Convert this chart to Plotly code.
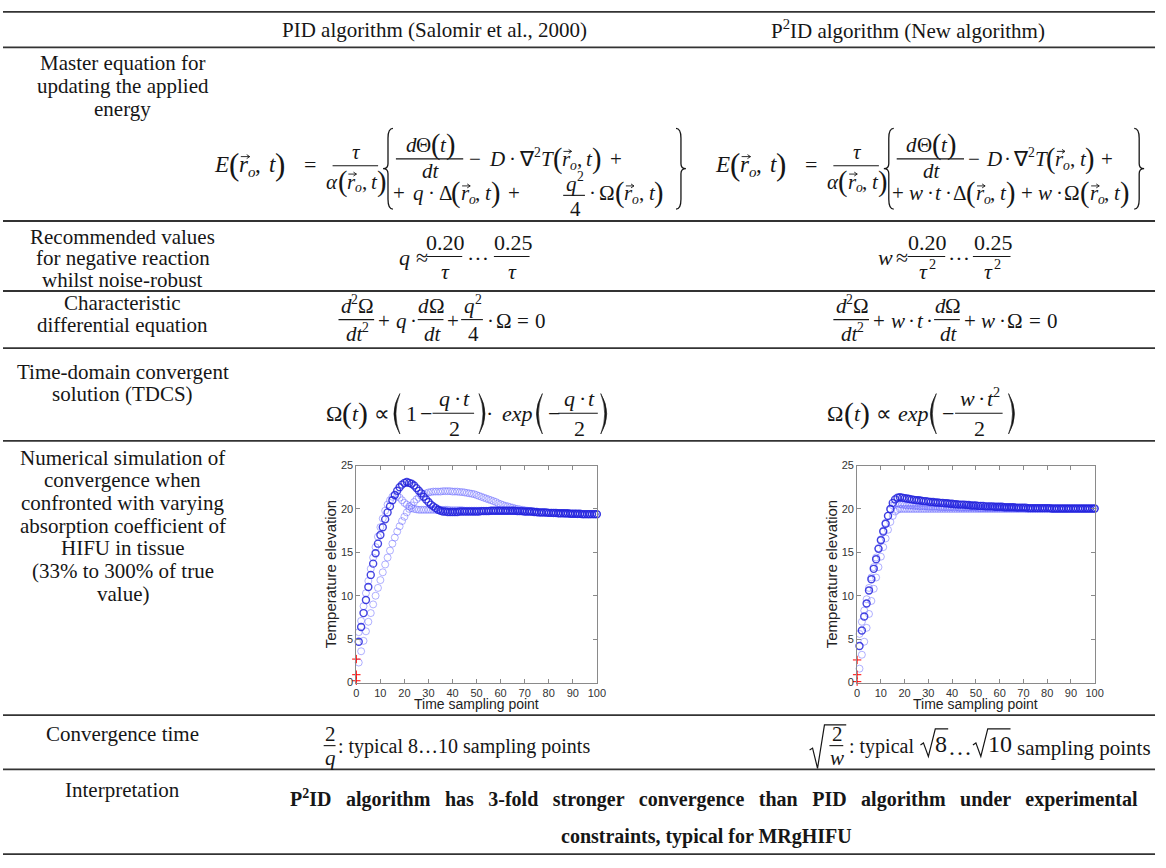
import plotly.graph_objects as go

# ---------------- data ----------------
t_steps = list(range(1, 101))
t_start = [0, 0, 0]

pid_start = [0.2, 0.9, 2.7]
pid_true = [4.7, 6.4, 8.0, 9.5, 11.0, 12.4, 13.7, 14.9, 16.0, 17.0,
            17.9, 18.8, 19.6, 20.3, 21.0, 21.6, 22.1, 22.5, 22.8, 23.0,
            23.1, 23.0, 22.9, 22.7, 22.4, 22.1, 21.8, 21.4, 21.1, 20.8,
            20.5, 20.3, 20.1, 19.9, 19.8, 19.7, 19.7, 19.65, 19.65, 19.65,
            19.65, 19.65, 19.7, 19.7, 19.7, 19.7, 19.7, 19.7, 19.7, 19.7,
            19.7, 19.75, 19.75, 19.75, 19.75, 19.8, 19.8, 19.8, 19.8, 19.8,
            19.8, 19.8, 19.8, 19.8, 19.8, 19.8, 19.75, 19.75, 19.75, 19.7,
            19.7, 19.7, 19.7, 19.65, 19.65, 19.6, 19.6, 19.6, 19.6, 19.55,
            19.55, 19.55, 19.55, 19.5, 19.5, 19.5, 19.5, 19.5, 19.45, 19.45,
            19.45, 19.45, 19.45, 19.4, 19.4, 19.4, 19.4, 19.4, 19.4, 19.4]
pid_fast = [5.8, 7.1, 8.8, 10.3, 11.7, 13.1, 14.4, 15.6, 16.8, 17.9,
            18.9, 19.8, 20.5, 21.0, 21.4, 21.6, 21.5, 21.3, 21.0, 20.7,
            20.5, 20.3, 20.1, 20.0, 19.95, 19.9, 19.9, 19.9, 19.9, 19.9,
            19.9, 19.9, 19.9, 19.9, 19.9, 19.9, 19.9, 19.9, 19.85, 19.85,
            19.85, 19.85, 19.85, 19.85, 19.8, 19.8, 19.8, 19.8, 19.8, 19.8,
            19.8, 19.8, 19.8, 19.8, 19.8, 19.8, 19.8, 19.8, 19.8, 19.8,
            19.8, 19.8, 19.8, 19.8, 19.8, 19.75, 19.75, 19.75, 19.7, 19.7,
            19.7, 19.7, 19.65, 19.65, 19.6, 19.6, 19.6, 19.6, 19.55, 19.55,
            19.55, 19.5, 19.5, 19.5, 19.5, 19.5, 19.45, 19.45, 19.45, 19.45,
            19.45, 19.4, 19.4, 19.4, 19.4, 19.4, 19.4, 19.4, 19.4, 19.4]
pid_slow = [2.3, 3.6, 4.8, 5.9, 7.0, 8.0, 9.0, 10.0, 10.9, 11.8,
            12.7, 13.6, 14.4, 15.2, 16.0, 16.7, 17.4, 18.0, 18.6, 19.1,
            19.6, 20.0, 20.4, 20.8, 21.1, 21.3, 21.5, 21.7, 21.8, 21.9,
            21.95, 22.0, 22.0, 22.0, 22.0, 22.05, 22.05, 22.05, 22.05, 22.0,
            22.0, 22.0, 21.95, 21.95, 21.9, 21.85, 21.8, 21.75, 21.7, 21.6,
            21.5, 21.4, 21.3, 21.2, 21.1, 21.0, 20.9, 20.8, 20.65, 20.55,
            20.45, 20.35, 20.3, 20.2, 20.15, 20.05, 20.0, 19.95, 19.9, 19.85,
            19.8, 19.75, 19.7, 19.7, 19.65, 19.6, 19.6, 19.6, 19.55, 19.55,
            19.55, 19.5, 19.5, 19.5, 19.5, 19.5, 19.45, 19.45, 19.45, 19.45,
            19.45, 19.4, 19.4, 19.4, 19.4, 19.4, 19.4, 19.4, 19.4, 19.4]

p2id_start = [0.1, 0.9, 2.6]
p2id_true = [4.2, 6.0, 7.6, 9.1, 10.6, 11.9, 13.1, 14.2, 15.4, 16.4,
             17.4, 18.3, 19.2, 20.0, 20.7, 21.1, 21.3, 21.35, 21.3, 21.25,
             21.2, 21.15, 21.1, 21.05, 21.0, 21.0, 20.95, 20.9, 20.9, 20.85,
             20.8, 20.8, 20.75, 20.75, 20.7, 20.7, 20.65, 20.65, 20.6, 20.6,
             20.55, 20.55, 20.5, 20.5, 20.5, 20.45, 20.45, 20.4, 20.4, 20.4,
             20.35, 20.35, 20.35, 20.3, 20.3, 20.3, 20.3, 20.25, 20.25, 20.25,
             20.25, 20.2, 20.2, 20.2, 20.2, 20.2, 20.15, 20.15, 20.15, 20.15,
             20.15, 20.1, 20.1, 20.1, 20.1, 20.1, 20.1, 20.1, 20.1, 20.1,
             20.1, 20.05, 20.05, 20.05, 20.05, 20.05, 20.05, 20.05, 20.05, 20.05,
             20.05, 20.05, 20.05, 20.05, 20.05, 20.05, 20.05, 20.05, 20.05, 20.05]
p2id_fast = [5.6, 7.0, 8.3, 9.6, 10.9, 12.1, 13.3, 14.4, 15.5, 16.5,
             17.5, 18.4, 19.2, 19.9, 20.4, 20.6, 20.6, 20.55, 20.5, 20.45,
             20.4, 20.4, 20.4, 20.35, 20.35, 20.3, 20.3, 20.3, 20.3, 20.25,
             20.25, 20.25, 20.25, 20.25, 20.2, 20.2, 20.2, 20.2, 20.2, 20.2,
             20.2, 20.2, 20.15, 20.15, 20.15, 20.15, 20.15, 20.15, 20.15, 20.15,
             20.1, 20.1, 20.1, 20.1, 20.1, 20.1, 20.1, 20.1, 20.1, 20.1,
             20.1, 20.1, 20.1, 20.1, 20.1, 20.1, 20.1, 20.1, 20.1, 20.1,
             20.05, 20.05, 20.05, 20.05, 20.05, 20.05, 20.05, 20.05, 20.05, 20.05,
             20.05, 20.05, 20.05, 20.05, 20.05, 20.05, 20.05, 20.05, 20.05, 20.05,
             20.05, 20.05, 20.05, 20.05, 20.05, 20.05, 20.05, 20.05, 20.05, 20.05]
p2id_slow = [1.6, 3.2, 4.7, 6.3, 7.9, 9.4, 10.8, 12.1, 13.3, 14.5,
             15.6, 16.6, 17.6, 18.5, 19.2, 19.7, 19.9, 20.0, 20.0, 20.0,
             20.0, 20.0, 20.0, 20.0, 20.0, 20.0, 20.0, 20.0, 20.0, 20.0,
             20.0, 20.0, 20.0, 20.0, 20.0, 20.0, 20.0, 20.0, 20.0, 20.0,
             20.0, 20.0, 20.0, 20.0, 20.0, 20.0, 20.0, 20.0, 20.0, 20.0,
             20.0, 20.0, 20.0, 20.0, 20.0, 20.0, 20.0, 20.0, 20.0, 20.0,
             20.0, 20.0, 20.0, 20.0, 20.0, 20.0, 20.0, 20.0, 20.0, 20.0,
             20.0, 20.0, 20.0, 20.0, 20.0, 20.0, 20.0, 20.0, 20.0, 20.0,
             20.0, 20.0, 20.0, 20.0, 20.0, 20.0, 20.0, 20.0, 20.0, 20.0,
             20.0, 20.0, 20.0, 20.0, 20.0, 20.0, 20.0, 20.0, 20.0, 20.0]

x_ticks = [0, 10, 20, 30, 40, 50, 60, 70, 80, 90, 100]
y_ticks = [0, 5, 10, 15, 20, 25]
x_title = "Time sampling point"
y_title = "Temperature elevation"

col_headers = ["PID algorithm (Salomir et al., 2000)", "P<sup>2</sup>ID algorithm (New algorithm)"]
row_labels = [
    ["Master equation for", "updating the applied", "energy"],
    ["Recommended values", "for negative reaction", "whilst noise-robust"],
    ["Characteristic", "differential equation"],
    ["Time-domain convergent", "solution (TDCS)"],
    ["Numerical simulation of", "convergence when", "confronted with varying",
     "absorption coefficient of", "HIFU in tissue", "(33% to 300% of true", "value)"],
    ["Convergence time"],
    ["Interpretation"],
]
interpretation = ["P<sup>2</sup>ID algorithm has 3-fold stronger convergence than PID algorithm under experimental",
                  "constraints, typical for MRgHIFU"]

# ---------------- helpers ----------------
W, H = 1166, 868
SERIF = "Liberation Serif"
INK = "#161616"
ann, shapes = [], []


def X(x):
    return x / W


def Y(y):
    return 1 - y / H


def txt(x, y, s, size=20, anchor="center", color=INK, family=SERIF):
    ann.append(dict(x=X(x), y=Y(y), xref="paper", yref="paper", text=s, showarrow=False,
                    xanchor=anchor, yanchor="middle", borderpad=0,
                    font=dict(family=family, size=size, color=color)))


def seg(x0, y0, x1, y1, w=1.1, color=INK):
    shapes.append(dict(type="line", xref="paper", yref="paper", x0=X(x0), y0=Y(y0),
                       x1=X(x1), y1=Y(y1), line=dict(color=color, width=w)))


def pathd(cmds, w=1.2, fill=None):
    d = ""
    for item in cmds:
        cmd, vals = item[0], item[1:]
        pts = [f"{X(vals[i]):.5f},{Y(vals[i + 1]):.5f}" for i in range(0, len(vals), 2)]
        d += cmd + " " + " ".join(pts) + " "
    sh = dict(type="path", xref="paper", yref="paper", path=d.strip() + (" Z" if fill else ""),
              line=dict(color=INK, width=w))
    if fill:
        sh["fillcolor"] = fill
    shapes.append(sh)


# Times / Liberation Serif advance widths (em)
REG = {' ': .25, '(': .333, ')': .333, ',': .25, '.': .25, ':': .278, '+': .564, '=': .564,
       '−': .564, '·': .25, '≈': .549, '∝': .72, 'Ω': .768, 'Θ': .722, 'Δ': .612, '∇': .72,
       '…': 1.0, 'τ': .44, 'α': .53, '2': .5, '0': .5, '1': .5, '4': .5, '5': .5, '8': .5}
ITA = {'E': .611, 'r': .389, 'o': .5, 't': .278, 'd': .5, 'D': .722, 'T': .556, 'q': .5,
       'w': .667, 'e': .444, 'x': .444, 'p': .5, 'τ': .44, 'α': .53}
SCALE = {'sub': .65, 'sup': .65, 'L': 1.35, 'R': 1.35}


def pw(piece, S):
    kind, s = piece
    if kind == 'g':
        return s * S
    fs = S * SCALE.get(kind, 1)
    table = ITA if kind in ('i', 'v', 'sub') else REG
    return sum(table.get(c, .5) for c in s) * fs


def run(x, y, pieces, S=21, anchor="left"):
    total = sum(pw(p, S) for p in pieces)
    cx = x - total / 2 if anchor == "center" else x
    for kind, s in pieces:
        w = pw((kind, s), S)
        if kind == 'g':
            cx += w
            continue
        fs = S * SCALE.get(kind, 1)
        dy = {'sub': .3 * S, 'sup': -.32 * S}.get(kind, 0)
        text = f"<i>{s}</i>" if kind in ('i', 'v', 'sub') else s
        txt(cx, y + dy, text, round(fs, 1), anchor="left")
        if kind == 'v':
            ya = y - .36 * S
            a0, a1 = cx + .12 * S, cx + w + .12 * S
            pathd([("M", a0, ya), ("L", a1, ya), ("M", a1 - 3, ya - 2), ("L", a1, ya),
                   ("L", a1 - 3, ya + 2)], w=0.9)
        cx += w
    return cx


def frac(cx, yb, num, den, half, S=21, up=13, down=14):
    seg(cx - half, yb, cx + half, yb, w=1.1)
    run(cx, yb - up, num, S, anchor="center")
    run(cx, yb + down, den, S, anchor="center")


def brace(x, y0, y1, w=9, left=True):
    ym = (y0 + y1) / 2
    s = 1 if left else -1
    xm = x + s * w / 2
    xe = x + s * w
    pathd([("M", xe, y0), ("Q", xm, y0, xm, y0 + w), ("L", xm, ym - w / 2),
           ("Q", xm, ym, x, ym), ("Q", xm, ym, xm, ym + w / 2), ("L", xm, y1 - w),
           ("Q", xm, y1, xe, y1)], w=1.3)


def paren(x, y0, y1, left=True, b=6, th=2.0):
    ym = (y0 + y1) / 2
    s = -1 if left else 1
    pathd([("M", x, y0), ("Q", x + s * 2 * b, ym, x, y1),
           ("Q", x + s * (2 * b - 2 * th), ym, x, y0)], w=0.6, fill=INK)


def radical(x0, ytop, ybot, x_end):
    ym = ybot - (ybot - ytop) * 0.42
    pathd([("M", x0, ym), ("L", x0 + 3, ym - 2), ("L", x0 + 8, ybot), ("L", x0 + 15, ytop),
           ("L", x_end, ytop)], w=1.2)


G = ('g', .28)
DG = ('g', .17)
GL = ('g', .4)
DGL = ('g', .24)
ROT = [('L', '('), ('v', 'r'), ('sub', 'o'), ('n', ','), ('g', .2), ('i', 't'), ('R', ')')]
ROTB = [('L', '('), ('v', 'r'), ('sub', 'o'), ('n', ','), ('g', .35), ('i', 't'), ('R', ')')]

# ---------------- table rules ----------------
for yy in [6, 42, 218, 289, 347, 441, 719, 774, 860]:
    seg(0, yy, 1164, yy, w=1.8, color="#333")

# headers
txt(436, 24, col_headers[0], 21)
txt(914, 24, col_headers[1], 21)

# row labels
label_y = [[58, 81, 104], [234, 256, 278], [301, 323], [371, 393],
           [458, 481, 504, 527, 550, 573, 596], [738], [795]]
for lines, ys in zip(row_labels, label_y):
    for s, yy in zip(lines, ys):
        txt(121, yy, s, 21)

# ---------------- row 1: master equation ----------------
S1 = 21
for off in [0, 506]:
    run(212 + off, 161, [('i', 'E'), ('g', .05)] + ROTB, 23)
    run(303 + off, 161, [('n', '=')], 22)
    frac(356 + off, 162, [('i', 'τ')], [('i', 'α')] + ROT, 23, S1, up=14, down=16)
    brace(384 + off, 124, 206, w=10, left=True)
    frac(431 + off, 155, [('i', 'd'), ('n', 'Θ'), ('L', '('), ('i', 't'), ('R', ')')],
         [('i', 'dt')], 34, S1, up=14, down=12)

run(470, 155, [('n', '−'), GL, ('i', 'D'), DGL, ('n', '·'), DGL, ('n', '∇'), ('sup', '2'),
               ('i', 'T')] + ROT + [GL, ('n', '+')], S1)
run(393, 190, [('n', '+'), GL, ('i', 'q'), DGL, ('n', '·'), DGL, ('n', 'Δ')] + ROT + [GL, ('n', '+')], S1)
frac(577, 192, [('i', 'q'), ('sup', '2')], [('n', '4')], 11, S1, up=12, down=14)
run(591, 190, [('n', '·'), DGL, ('n', 'Ω')] + ROT, S1)
brace(690, 124, 206, w=10, left=False)

run(974, 155, [('n', '−'), G, ('i', 'D'), DG, ('n', '·'), DG, ('n', '∇'), ('sup', '2'),
               ('i', 'T')] + ROT + [G, ('n', '+')], S1)
run(897, 190, [('n', '+'), G, ('i', 'w'), DG, ('n', '·'), DG, ('i', 't'), DG, ('n', '·'), DG,
               ('n', 'Δ')] + ROT + [G, ('n', '+'), G, ('i', 'w'), DG, ('n', '·'), DG, ('n', 'Ω')] + ROT, S1)
brace(1153, 124, 206, w=10, left=False)

# ---------------- row 2: recommended values ----------------
S2 = 22
run(399, 255, [('i', 'q'), G, ('n', '≈')], S2)
frac(446, 254, [('n', '0.20')], [('i', 'τ')], 18, S2, up=14, down=15)
txt(480, 256, "···", S2)
frac(514, 254, [('n', '0.25')], [('i', 'τ')], 18, S2, up=14, down=15)

run(883, 255, [('i', 'w'), ('g', .15), ('n', '≈')], S2)
frac(933, 254, [('n', '0.20')], [('i', 'τ'), ('sup', '2')], 19, S2, up=14, down=15)
txt(966, 256, "···", S2)
frac(999, 254, [('n', '0.25')], [('i', 'τ'), ('sup', '2')], 19, S2, up=14, down=15)

# ---------------- row 3: characteristic equation ----------------
S3 = 21
for cx0, mid in [(357, [('n', '+'), G, ('i', 'q'), DG, ('n', '·')]),
                 (857, [('n', '+'), G, ('i', 'w'), DG, ('n', '·'), DG, ('i', 't'), DG, ('n', '·')])]:
    frac(cx0, 318, [('i', 'd'), ('sup', '2'), ('n', 'Ω')], [('i', 'dt'), ('sup', '2')], 18, S3, up=14, down=15)
    xe = run(cx0 + 21, 319, mid, S3) + 4
    frac(xe + 13, 318, [('i', 'd'), ('n', 'Ω')], [('i', 'dt')], 13, S3, up=14, down=15)
    if cx0 < 600:
        xe2 = run(xe + 29, 319, [('n', '+')], S3) + 3
        frac(xe2 + 11, 318, [('i', 'q'), ('sup', '2')], [('n', '4')], 11, S3, up=14, down=15)
        run(xe2 + 25, 319, [('n', '·'), DG, ('n', 'Ω'), G, ('n', '='), G, ('n', '0')], S3)
    else:
        run(xe + 29, 319, [('n', '+'), G, ('i', 'w'), DG, ('n', '·'), DG, ('n', 'Ω'), G, ('n', '='),
                           G, ('n', '0')], S3)

# ---------------- row 4: TDCS ----------------
S4 = 22
OMT = [('n', 'Ω'), ('L', '('), ('i', 't'), ('R', ')'), G, ('n', '∝')]
QT = [('i', 'q'), DG, ('n', '·'), DG, ('i', 't')]
run(325, 413, OMT, S4)
paren(401, 393, 434, left=True)
run(406, 413, [('n', '1'), ('g', .15), ('n', '−')], S4)
frac(455, 413, QT, [('n', '2')], 21, S4, up=15, down=15)
paren(481, 393, 434, left=False)
txt(492, 413, "·", S4)
run(503, 413, [('i', 'exp')], S4)
paren(545, 393, 434, left=True)
run(550, 413, [('n', '−')], S4)
frac(581, 413, QT, [('n', '2')], 20, S4, up=15, down=15)
paren(604, 393, 434, left=False)

run(832, 413, OMT, S4)
run(903, 413, [('i', 'exp')], S4)
paren(943, 393, 434, left=True)
run(948, 413, [('n', '−')], S4)
frac(986, 413, [('i', 'w'), DG, ('n', '·'), DG, ('i', 't'), ('sup', '2')], [('n', '2')], 24, S4, up=15, down=15)
paren(1016, 393, 434, left=False)

# ---------------- row 6: convergence time ----------------
frac(330, 750, [('n', '2')], [('i', 'q')], 6, 21, up=12, down=13)
txt(337, 751, ": typical 8…10 sampling points", 20, anchor="left")

radical(815, 729, 773, 852)
frac(842, 750, [('n', '2')], [('i', 'w')], 7, 21, up=12, down=13)
txt(854, 751, ": typical", 20, anchor="left")
radical(927, 733, 761, 955)
txt(948, 748, "8", 24)
txt(967, 751, "…", 24)
radical(980, 733, 761, 1018)
txt(1007, 748, "10", 24)
txt(1024, 752, "sampling points", 21, anchor="left")

# ---------------- row 7: interpretation ----------------
txt(718, 804, f'<b><span style="word-spacing:9.5px">{interpretation[0]}</span></b>', 20)
txt(711, 842, f"<b>{interpretation[1]}</b>", 20)

# ---------------- scatter plots ----------------
DARK = "rgba(35,35,220,0.85)"
LIGHT = "rgba(100,100,255,0.5)"
PLOT_X = [(357, 600), (863, 1103)]

fig = go.Figure()


def add_series(xa, ya, ys, color, width):
    fig.add_trace(go.Scatter(x=t_steps, y=ys, mode="markers", xaxis=xa, yaxis=ya,
                             cliponaxis=False, showlegend=False,
                             marker=dict(symbol="circle-open", size=7, color=color,
                                         line=dict(width=width, color=color))))


for xa, ya, slow, fast, true, start in [("x", "y", pid_slow, pid_fast, pid_true, pid_start),
                                        ("x2", "y2", p2id_slow, p2id_fast, p2id_true, p2id_start)]:
    add_series(xa, ya, slow, LIGHT, 1)
    add_series(xa, ya, fast, LIGHT, 1)
    add_series(xa, ya, true, DARK, 1.4)
    fig.add_trace(go.Scatter(x=t_start, y=start, mode="markers", xaxis=xa, yaxis=ya,
                             cliponaxis=False, showlegend=False,
                             marker=dict(symbol="cross-thin", size=6,
                                         line=dict(width=1, color="red"))))

for x0, x1 in PLOT_X:
    txt((x0 + x1) / 2, 708, x_title, 14, color="#222", family="Liberation Sans")

axis_common = dict(showline=True, linecolor="#8a8a8a", linewidth=1, mirror="ticks",
                   ticks="inside", ticklen=4, tickcolor="#8a8a8a", showgrid=False,
                   zeroline=False, tickfont=dict(family="Liberation Sans", size=11, color="#333"))
xcommon = dict(axis_common, range=[0, 100], tickvals=x_ticks)
ycommon = dict(axis_common, range=[0, 25], tickvals=y_ticks,
               title=dict(text=y_title, standoff=0,
                          font=dict(family="Liberation Sans", size=15, color="#222")))

y_dom = [1 - 686 / H, 1 - 466 / H]
fig.update_layout(
    width=W, height=H, autosize=False,
    margin=dict(l=0, r=0, t=0, b=0),
    paper_bgcolor="white", plot_bgcolor="white",
    xaxis=dict(xcommon, domain=[PLOT_X[0][0] / W, PLOT_X[0][1] / W], anchor="y"),
    yaxis=dict(ycommon, domain=y_dom, anchor="x"),
    xaxis2=dict(xcommon, domain=[PLOT_X[1][0] / W, PLOT_X[1][1] / W], anchor="y2"),
    yaxis2=dict(ycommon, domain=y_dom, anchor="x2"),
    annotations=ann, shapes=shapes,
)

fig.write_html("out.html")
